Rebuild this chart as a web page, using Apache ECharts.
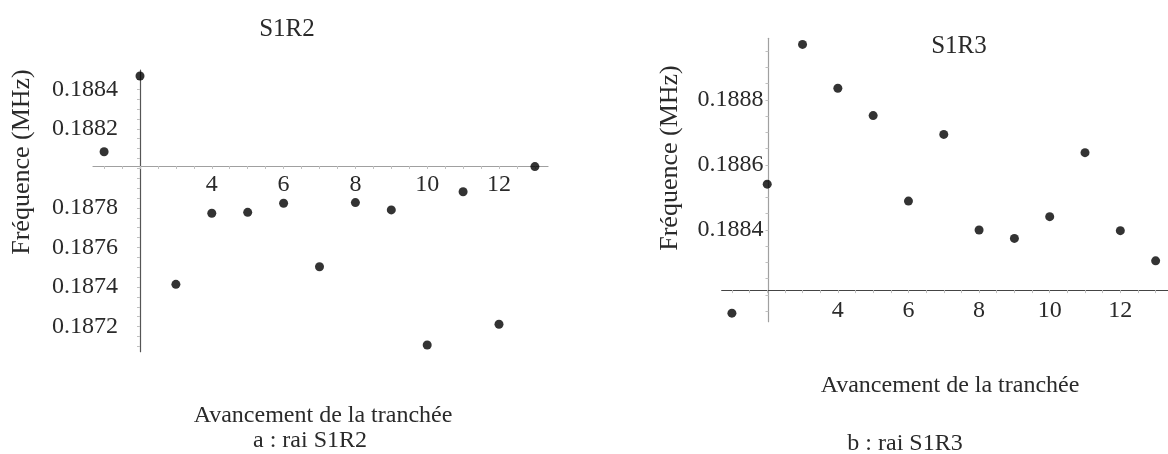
<!DOCTYPE html>
<html><head><meta charset="utf-8">
<script src="https://cdn.jsdelivr.net/npm/echarts@6/dist/echarts.min.js"></script>
<style>html,body{margin:0;padding:0;background:#fff}#c{width:1168px;height:454px}</style>
</head><body><div id="c"></div>
<script>
// ---- data ----
const xValues = [1,2,3,4,5,6,7,8,9,10,11,12,13];
const s1r2 = [0.188084,0.188467,0.187414,0.187773,0.187778,0.187824,0.187503,0.187827,0.187790,0.187107,0.187882,0.187212,0.188009];
const s1r3 = [0.188144,0.188541,0.188971,0.188836,0.188752,0.188489,0.188694,0.188400,0.188374,0.188441,0.188638,0.188398,0.188305];
const xTickLabels = [4,6,8,10,12];
const yTickLabelsA = [0.1872,0.1874,0.1876,0.1878,0.1882,0.1884];
const yTickLabelsB = [0.1884,0.1886,0.1888];
const plotTitles = ['S1R2','S1R3'];
const captions = ['a : rai S1R2','b : rai S1R3'];
const xName = 'Avancement de la tranchée';
const yName = 'Fréquence (MHz)';

// ---- layout ----
const FONT = 'Liberation Serif';
const TXT = '#2a2a2a';
const grids = [
  {left:93, top:70, width:455, height:281.7},
  {left:721.7, top:38.3, width:458.8, height:283.4}
];
const xRange = [[0.691,13.365],[0.711,13.35]];
const yRange = [[0.1870733,0.1884975],[0.1881178,0.1889898]];
const crossAt = [[2,0.188012],[2,0.188215]];
const yLabelTicks = [yTickLabelsA, yTickLabelsB];
const axisColor = [['#a0a0a0','#555'],['#444','#a0a0a0']];
const yLabelMargin = [22, 5];
const xLabelMargin = [7, 9];

function steps(a,b,st){const r=[];for(let v=a;v<=b+1e-12;v+=st)r.push(+v.toFixed(6));return r;}

const xAxes = [], yAxes = [], series = [];
[0,1].forEach(i=>{
  const g = grids[i];
  const [x0,x1] = xRange[i], [y0,y1] = yRange[i];
  const [cx,cy] = crossAt[i];
  xAxes.push({
    type:'value', gridIndex:i, min:x0, max:x1, position:'bottom',
    offset: -(cy-y0)/(y1-y0)*g.height,
    axisLine:{onZero:false,lineStyle:{color:axisColor[i][0],width:1.2}},
    axisTick:{show:true,length:3,customValues:steps(1,13,0.5),lineStyle:{color:'#c0c0c0'}},
    axisLabel:{customValues:xTickLabels,margin:xLabelMargin[i],fontFamily:FONT,fontSize:24,color:TXT},
    splitLine:{show:false}
  });
  yAxes.push({
    type:'value', gridIndex:i, min:y0, max:y1, position:'left',
    offset: -(cx-x0)/(x1-x0)*g.width,
    axisLine:{onZero:false,lineStyle:{color:axisColor[i][1],width:1.2}},
    axisTick:{show:true,length:3,customValues:steps(Math.ceil(y0/0.00005)*0.00005,y1,0.00005),lineStyle:{color:'#c0c0c0'}},
    axisLabel:{customValues:yLabelTicks[i],margin:yLabelMargin[i],fontFamily:FONT,fontSize:24,color:TXT,
      formatter:v=>v.toFixed(4)},
    splitLine:{show:false}
  });
  const ys = i===0 ? s1r2 : s1r3;
  series.push({
    type:'scatter', xAxisIndex:i, yAxisIndex:i, symbol:'circle', symbolSize:9,
    itemStyle:{color:'#000'}, data:xValues.map((x,k)=>[x,ys[k]]), silent:true
  });
});

const tStyle = (fs)=>({fontFamily:FONT,fontSize:fs,fontWeight:'normal',color:TXT});
const chart = echarts.init(document.getElementById('c'), null, {renderer:'canvas'});
chart.setOption({
  backgroundColor:'#fff',
  animation:false,
  title:[
    {text:plotTitles[0],left:282,top:12,textAlign:'center',textStyle:tStyle(25)},
    {text:plotTitles[1],left:954,top:29,textAlign:'center',textStyle:tStyle(25)},
    {text:xName,left:318,top:399,textAlign:'center',textStyle:tStyle(24)},
    {text:xName,left:945,top:369,textAlign:'center',textStyle:tStyle(24)},
    {text:captions[0],left:305,top:424,textAlign:'center',textStyle:tStyle(24)},
    {text:captions[1],left:900,top:427,textAlign:'center',textStyle:tStyle(24)}
  ],
  graphic:[
    {type:'text',x:22,y:162,rotation:Math.PI/2,style:{text:yName,font:'26px "Liberation Serif"',fill:TXT,align:'center',verticalAlign:'middle'}},
    {type:'text',x:670,y:158,rotation:Math.PI/2,style:{text:yName,font:'26px "Liberation Serif"',fill:TXT,align:'center',verticalAlign:'middle'}}
  ],
  grid:grids.map(g=>Object.assign({containLabel:false},g)),
  xAxis:xAxes, yAxis:yAxes, series:series
});
</script></body></html>
